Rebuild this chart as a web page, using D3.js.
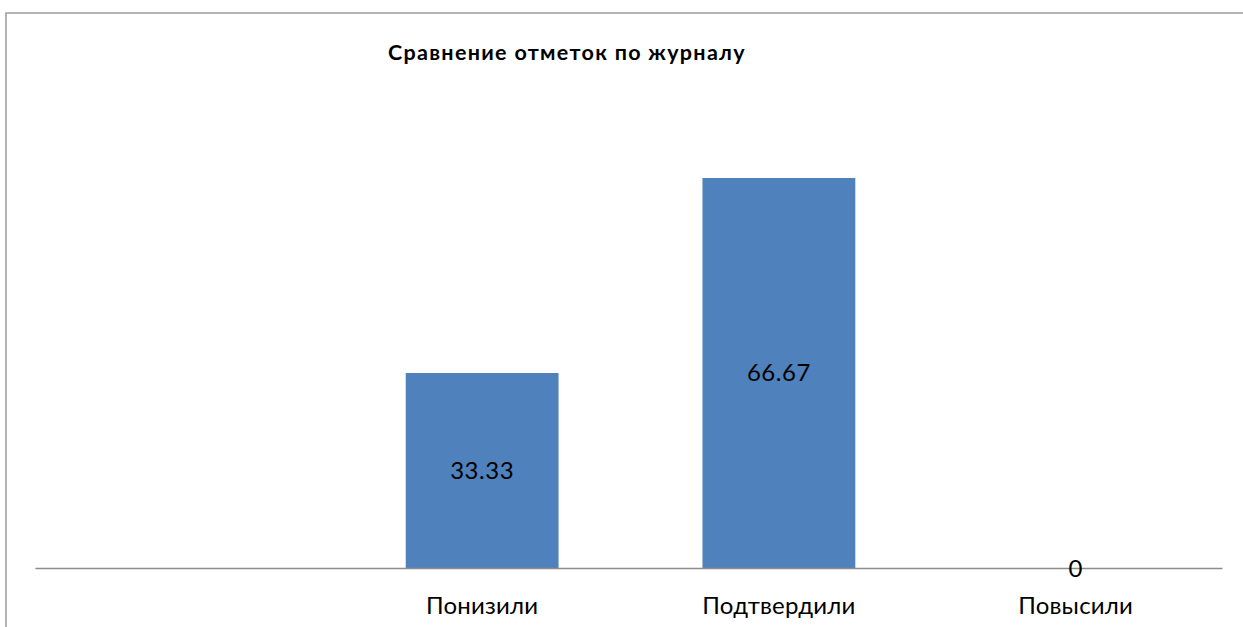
<!DOCTYPE html>
<html><head><meta charset="utf-8">
<script src="https://cdn.jsdelivr.net/npm/d3@7"></script>
<style>html,body{margin:0;padding:0;background:#fff;}svg{display:block;}</style>
</head><body>
<svg id="c" width="1243" height="627"></svg>
<script>
const categories = ["", "Понизили", "Подтвердили", "Повысили"];
const values = [null, 33.33, 66.67, 0];
const valueLabels = ["", "33.33", "66.67", "0"];
const title = "Сравнение отметок по журналу";

const svg = d3.select("#c");
const font = "Lato, 'Open Sans', sans-serif";

svg.append("rect").attr("x", 6).attr("y", 13).attr("width", 1260).attr("height", 640)
  .attr("fill", "none").attr("stroke", "#9a9a9a").attr("stroke-width", 1.5);

const x = d3.scaleBand().domain(d3.range(categories.length)).range([35, 1222])
  .paddingInner(0.485).paddingOuter(0.2425).align(0.514);
const y = d3.scaleLinear().domain([0, 70]).range([568, 568 - 70 * 5.85]);

svg.append("text").attr("x", 567).attr("y", 60).attr("text-anchor", "middle")
  .attr("font-family", font).attr("font-weight", "bold").attr("font-size", 21.5)
  .attr("letter-spacing", 1.3).attr("fill", "#000")
  .text(title);

const data = categories.map((c, i) => ({c, v: values[i], l: valueLabels[i], i}));

svg.selectAll("rect.bar").data(data.filter(d => d.v !== null && d.v > 0)).enter().append("rect")
  .attr("class", "bar")
  .attr("x", d => x(d.i)).attr("width", x.bandwidth())
  .attr("y", d => y(d.v)).attr("height", d => y(0) - y(d.v))
  .attr("fill", "#4F81BD");

const xAxis = d3.axisBottom(x).tickSize(0).tickPadding(0).tickFormat(i => categories[i]);
const gx = svg.append("g").attr("transform", `translate(0,${y(0)})`).call(xAxis);
gx.select(".domain").attr("stroke", "#8c8c8c").attr("stroke-width", 1.5);
gx.selectAll("text").attr("font-family", font).attr("font-size", 24).attr("fill", "#000")
  .attr("letter-spacing", 0.2).attr("dy", null).attr("y", 46);

svg.selectAll("text.val").data(data.filter(d => d.v !== null)).enter().append("text")
  .attr("class", "val")
  .attr("x", d => x(d.i) + x.bandwidth() / 2)
  .attr("y", d => (y(d.v) + y(0)) / 2 + 8.5)
  .attr("text-anchor", "middle")
  .attr("font-family", font).attr("font-size", 24).attr("letter-spacing", 0.5).attr("fill", "#000")
  .text(d => d.l);
</script>
</body></html>
